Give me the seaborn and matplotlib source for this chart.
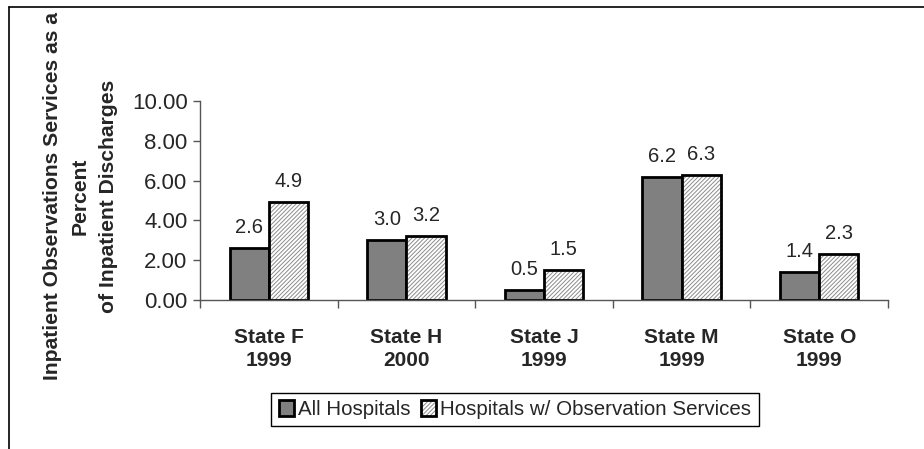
import pandas as pd
import matplotlib
matplotlib.use("Agg")
import matplotlib.pyplot as plt
from matplotlib.patches import Rectangle
from matplotlib.lines import Line2D
from matplotlib.legend_handler import HandlerTuple
import seaborn as sns

# data
states = ["State F\n1999", "State H\n2000", "State J\n1999", "State M\n1999", "State O\n1999"]
all_hospitals = [2.6, 3.0, 0.5, 6.2, 1.4]
obs_hospitals = [4.9, 3.2, 1.5, 6.3, 2.3]
series_names = ["All Hospitals", "Hospitals w/ Observation Services"]
y_ticks = [0, 2, 4, 6, 8, 10]

df = pd.DataFrame({
    "state": states * 2,
    "value": all_hospitals + obs_hospitals,
    "series": [series_names[0]] * len(states) + [series_names[1]] * len(states),
})

sns.set_style("white")
plt.rcParams["font.family"] = ["Liberation Sans", "DejaVu Sans"]
plt.rcParams["hatch.linewidth"] = 0.7

HATCH = "////////"
HATCH_COLOR = "#8c8c8c"

fig = plt.figure(figsize=(9.24, 4.49), dpi=100)
ax = fig.add_axes([200 / 924, 1 - 300 / 449, 688 / 924, 199 / 449])

sns.barplot(data=df, x="state", y="value", hue="series", order=states,
            hue_order=series_names,
            palette={series_names[0]: "#808080", series_names[1]: "white"},
            width=0.57, edgecolor="black", linewidth=2, saturation=1,
            legend=False, ax=ax)

# hatched series: hatch colour follows edge colour, so outline separately
hatched = ax.containers[1]
for p in hatched:
    p.set_hatch(HATCH)
    p.set_edgecolor(HATCH_COLOR)
    p.set_linewidth(0)
    ax.add_patch(Rectangle(p.get_xy(), p.get_width(), p.get_height(),
                           fill=False, edgecolor="black", linewidth=2, zorder=p.get_zorder() + 0.1))

for c in ax.containers:
    ax.bar_label(c, fmt="%.1f", padding=8, fontsize=14.5)

ax.set_ylim(0, 10)
ax.set_xlim(-0.5, len(states) - 0.5)
ax.set_yticks(y_ticks)
ax.set_yticklabels([f"{v:.2f}" for v in y_ticks], fontsize=16)
ax.tick_params(axis="y", direction="out", length=5, width=1, color="#555555", pad=4, left=True)

ax.set_xticks([i - 0.5 for i in range(len(states) + 1)])
ax.set_xticklabels([])
ax.set_xticks(range(len(states)), minor=True)
ax.set_xticklabels(states, minor=True, fontsize=15, fontweight="bold", linespacing=1.25)
ax.tick_params(axis="x", which="major", direction="out", length=6, width=1, color="#555555", bottom=True)
ax.tick_params(axis="x", which="minor", length=0, pad=20)

ax.set_xlabel("")
ax.set_ylabel("Inpatient Observations Services as a\nPercent\nof Inpatient Discharges",
              fontsize=15.2, fontweight="bold", linespacing=1.6, va="center")
ax.yaxis.set_label_coords(-0.174, 0.523)

for s in ["top", "right"]:
    ax.spines[s].set_visible(False)
for s in ["left", "bottom"]:
    ax.spines[s].set_color("#555555")
    ax.spines[s].set_linewidth(1)

# legend
h1 = Rectangle((0, 0), 1, 1, facecolor="#808080", edgecolor="black", linewidth=2)
h2a = Rectangle((0, 0), 1, 1, facecolor="white", edgecolor=HATCH_COLOR, hatch=HATCH, linewidth=0)
h2b = Rectangle((0, 0), 1, 1, fill=False, edgecolor="black", linewidth=2)
leg = fig.legend([h1, (h2a, h2b)], series_names, loc="upper center",
                 bbox_to_anchor=(515 / 924, 1 - 393 / 449), ncol=2, fontsize=14.8,
                 frameon=True, fancybox=False, framealpha=1, edgecolor="black",
                 handlelength=0.75, handleheight=0.75, handletextpad=0.2,
                 columnspacing=0.5, borderpad=0.35, borderaxespad=0,
                 handler_map={tuple: HandlerTuple(ndivide=1)})
leg.get_frame().set_linewidth(1)

# outer frame (left and top edges visible)
fig.add_artist(Line2D([9 / 924, 9 / 924], [0, 1 - 7 / 449], transform=fig.transFigure, color="black", lw=1.2))
fig.add_artist(Line2D([9 / 924, 1], [1 - 7 / 449, 1 - 7 / 449], transform=fig.transFigure, color="black", lw=1.2))

fig.savefig("out.png", dpi=100)
